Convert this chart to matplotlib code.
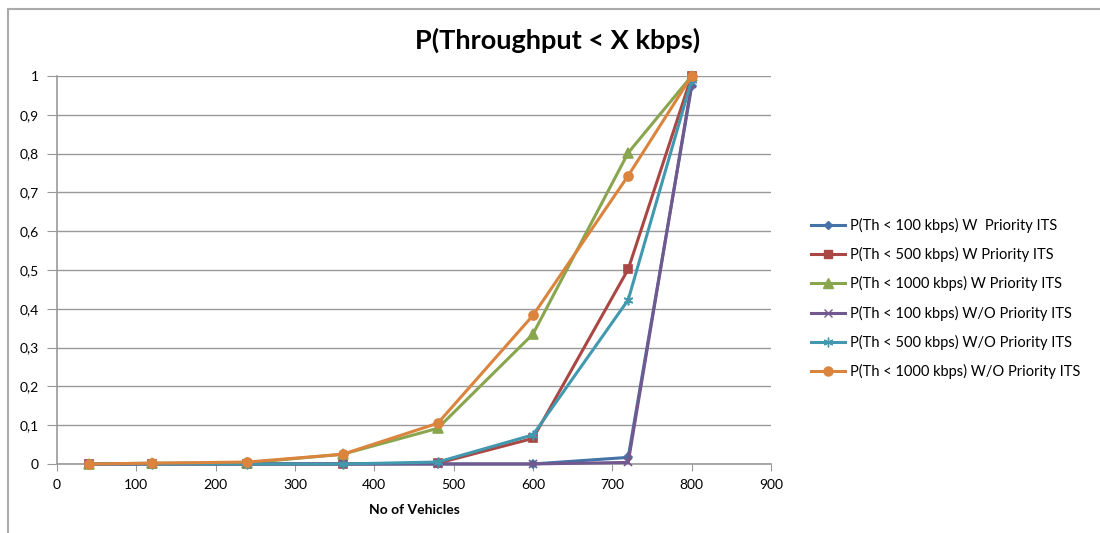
import matplotlib
matplotlib.use("Agg")
import matplotlib.pyplot as plt
from matplotlib.lines import Line2D
from matplotlib.ticker import FuncFormatter, MultipleLocator

plt.rcParams['font.family'] = ['Lato', 'DejaVu Sans']

vehicles = [40, 120, 240, 360, 480, 600, 720, 800]

series_labels = [
    "P(Th < 100 kbps) W  Priority ITS",
    "P(Th < 500 kbps) W Priority ITS",
    "P(Th < 1000 kbps) W Priority ITS",
    "P(Th < 100 kbps) W/O Priority ITS",
    "P(Th < 500 kbps) W/O Priority ITS",
    "P(Th < 1000 kbps) W/O Priority ITS",
]

w_100 = [0, 0, 0, 0, 0, 0, 0.017, 0.973]
w_500 = [0, 0, 0, 0, 0.002, 0.066, 0.502, 1.0]
w_1000 = [0, 0.002, 0.003, 0.025, 0.092, 0.335, 0.802, 1.0]
wo_100 = [0, 0, 0, 0, 0, 0, 0.004, 0.98]
wo_500 = [0, 0, 0, 0, 0.005, 0.075, 0.423, 0.99]
wo_1000 = [0, 0.002, 0.005, 0.025, 0.105, 0.383, 0.743, 1.0]

series_values = [w_100, w_500, w_1000, wo_100, wo_500, wo_1000]
colors = ["#4572A7", "#AA4643", "#89A54E", "#71588F", "#4198AF", "#DB843D"]
markers = ["D", "s", "^", "x", (6, 2, 0), "o"]
msizes = [4.5, 6, 6.5, 6, 7, 6.5]

fig = plt.figure(figsize=(11, 5.33), dpi=100)
ax = fig.add_axes([0.0518, 0.1295, 0.6491, 0.7279])

for vals, c, m, ms in zip(series_values, colors, markers, msizes):
    ax.plot(vehicles, vals, color=c, marker=m, markersize=ms, linewidth=2.2,
            markeredgewidth=1.2, markeredgecolor=c, markerfacecolor=c,
            clip_on=False, zorder=3)

ax.set_xlim(0, 900)
ax.set_ylim(0, 1)
ax.xaxis.set_major_locator(MultipleLocator(100))
ax.yaxis.set_major_locator(MultipleLocator(0.1))
ax.yaxis.set_major_formatter(FuncFormatter(
    lambda v, p: "0" if abs(v) < 1e-9 else ("1" if abs(v - 1) < 1e-9 else f"{v:.1f}".replace(".", ","))))
ax.grid(axis='y', color='#999999', linewidth=1.0)
ax.set_axisbelow(True)
for s in ['top', 'right']:
    ax.spines[s].set_visible(False)
ax.spines['left'].set_color('#999999')
ax.spines['bottom'].set_color('#999999')
ax.spines['left'].set_linewidth(1.2)
ax.spines['bottom'].set_linewidth(1.2)
ax.tick_params(axis='y', length=7, color='#999999', labelsize=10, pad=6)
ax.tick_params(axis='x', length=5, color='#999999', labelsize=10, pad=6)

ax.set_xlabel("No of Vehicles", fontsize=10, fontweight='bold', labelpad=9)
fig.text(0.507, 0.925, "P(Throughput < X kbps)", fontsize=19.5, fontweight='bold',
         ha='center', va='center')

handles = [Line2D([0], [0], color=c, marker=m, markersize=ms, linewidth=2.2,
                  markerfacecolor=c, markeredgecolor=c)
           for c, m, ms in zip(colors, markers, msizes)]
fig.legend(handles, series_labels, loc='upper left', bbox_to_anchor=(0.732, 0.602),
           frameon=False, fontsize=10.5, handlelength=2.33, labelspacing=0.97,
           handletextpad=0.34, borderaxespad=0)

# chart frame
fig.add_artist(Line2D([0.0073, 0.0073], [0, 0.983], transform=fig.transFigure,
                      color='#aaaaaa', linewidth=1.5))
fig.add_artist(Line2D([0.0073, 1.0], [0.983, 0.983], transform=fig.transFigure,
                      color='#aaaaaa', linewidth=1.5))

fig.savefig("out.png", dpi=100)
